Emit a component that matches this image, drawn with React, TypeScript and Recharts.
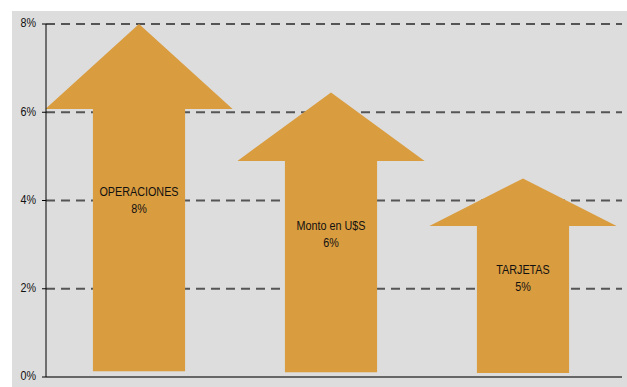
import React from 'react';
import {BarChart, Bar, XAxis, YAxis, CartesianGrid} from 'recharts';

const categories = ['OPERACIONES', 'Monto en U$S', 'TARJETAS'];
const valueLabels = ['8%', '6%', '5%'];
const tipValues = [8.0, 6.45, 4.5];
const baseValues = [0.13, 0.11, 0.09];
const yTicks = [0, 2, 4, 6, 8];

const data = categories.map((name, i) => ({
	name,
	label: valueLabels[i],
	range: [baseValues[i], tipValues[i]],
}));

const FONT = '"Liberation Sans", Arial, sans-serif';
// no narrow font installed, so squeeze the regular one
const SQUEEZE = 0.83;

const NarrowText = ({x, y, anchor, children}: any) => (
	<g transform={`translate(${x},${y}) scale(${SQUEEZE},1)`}>
		<text x={0} y={0} textAnchor={anchor} dominantBaseline='middle' fontSize={13} fontFamily={FONT} fill='#111'>
			{children}
		</text>
	</g>
);

const Arrow = (props: any) => {
	const {x, y, width, height, payload} = props;
	const cx = x + width / 2 - 3;
	const headW = width * 0.975;
	const shaftW = width * 0.48;
	const headH = height * 0.245;
	const bottom = y + height;
	const points = [
		[cx, y],
		[cx + headW / 2, y + headH],
		[cx + shaftW / 2, y + headH],
		[cx + shaftW / 2, bottom],
		[cx - shaftW / 2, bottom],
		[cx - shaftW / 2, y + headH],
		[cx - headW / 2, y + headH],
	].map((p) => p.join(',')).join(' ');
	const mid = y + height / 2;
	return (
		<g>
			<polygon points={points} fill='#d99c3f'/>
			<NarrowText x={cx} y={mid - 5.5} anchor='middle'>{payload.name}</NarrowText>
			<NarrowText x={cx} y={mid + 11.5} anchor='middle'>{payload.label}</NarrowText>
		</g>
	);
};

const YTick = (props: any) => {
	const {x, y, payload} = props;
	return <NarrowText x={x} y={y} anchor='end'>{`${payload.value}%`}</NarrowText>;
};

export default function App() {
	return (
		<div style={{position: 'absolute', left: 0, top: 0, width: 627, height: 387, background: '#fff', overflow: 'hidden'}}>
			<div style={{position: 'absolute', left: 12, top: 11, right: 0, bottom: 0, background: '#dddddd'}}/>
			<div style={{position: 'absolute', left: 0, top: 0}}>
				<BarChart
					width={627}
					height={387}
					data={data}
					barCategoryGap={0}
					margin={{top: 24, right: 5, left: 12, bottom: 9}}
				>
					<CartesianGrid vertical={false} stroke='#555' strokeWidth={2} strokeDasharray='9 6'/>
					<XAxis dataKey='name' tick={false} tickLine={false} height={1} axisLine={{stroke: '#666', strokeWidth: 2}}/>
					<YAxis
						width={34}
						domain={[0, 8]}
						ticks={yTicks}
						tickSize={4}
						tickMargin={6}
						axisLine={{stroke: '#000'}}
						tickLine={{stroke: '#000'}}
						tick={<YTick/>}
					/>
					<Bar dataKey='range' shape={Arrow} isAnimationActive={false}/>
				</BarChart>
			</div>
		</div>
	);
}
